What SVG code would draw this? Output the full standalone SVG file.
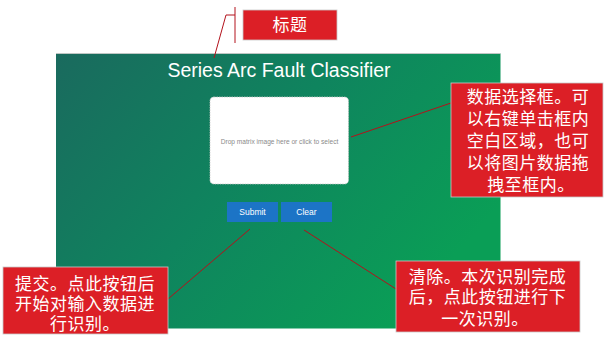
<svg xmlns="http://www.w3.org/2000/svg" width="606" height="340" viewBox="0 0 606 340">
  <defs>
    <linearGradient id="panelGrad" x1="0" y1="0" x2="1" y2="0.55">
      <stop offset="0" stop-color="#1a6a5e"/>
      <stop offset="0.5" stop-color="#0f845e"/>
      <stop offset="1" stop-color="#0a9e56"/>
    </linearGradient>
  </defs>
  <style>
    .callout { fill: #dc1f26; stroke: #c9c9c9; stroke-width: 0.8; }
    .cjk { font-family: "Liberation Sans", "Noto Sans CJK SC", sans-serif; fill: #ffffff; font-size: 17px; letter-spacing: 0.5px; text-anchor: middle; dominant-baseline: central; }
    .btn { fill: #1c74c6; }
    .btnText { font-family: "Liberation Sans", Arial, sans-serif; font-size: 8.5px; fill: #ffffff; text-anchor: middle; dominant-baseline: central; }
    .lead { stroke: #b3121c; stroke-width: 1; fill: none; }
  </style>

  <rect width="606" height="340" fill="#ffffff"/>

  <!-- application window -->
  <g id="app-panel">
    <rect x="56" y="53.5" width="444.5" height="275" fill="url(#panelGrad)"/>
    <line x1="56" y1="53.5" x2="500.5" y2="53.5" stroke="#bfc7c4" stroke-width="1"/>
  </g>

  <g id="app-title">
    <text x="279" y="77" font-family="Liberation Sans, Arial, sans-serif" font-size="19.5" fill="#ffffff" text-anchor="middle">Series Arc Fault Classifier</text>
  </g>

  <g id="drop-zone">
    <rect x="210" y="97" width="138.5" height="87" rx="4" fill="#ffffff" stroke="#c8c8c8" stroke-width="0.8" stroke-dasharray="1.5 1"/>
    <text x="279.5" y="141.5" font-family="Liberation Sans, Arial, sans-serif" font-size="6.6" fill="#8a8a8a" text-anchor="middle" dominant-baseline="central">Drop matrix image here or click to select</text>
  </g>

  <g id="submit-button">
    <rect class="btn" x="227" y="202" width="51" height="20"/>
    <text class="btnText" x="252.5" y="212">Submit</text>
  </g>

  <g id="clear-button">
    <rect class="btn" x="281" y="202" width="51" height="20"/>
    <text class="btnText" x="306.5" y="212">Clear</text>
  </g>

  <!-- leader lines -->
  <g id="connectors">
    <polyline class="lead" points="214,58 226,15 235,15"/>
    <line class="lead" x1="235" y1="7" x2="235" y2="43"/>
    <line class="lead" x1="351" y1="137" x2="451" y2="103"/>
    <line class="lead" x1="250" y1="229" x2="168" y2="299"/>
    <line class="lead" x1="304" y1="230" x2="396" y2="289"/>
  </g>

  <g id="note-title">
    <rect class="callout" x="243" y="10" width="94" height="30"/>
    <text class="cjk" x="290" y="25" font-size="19">标题</text>
  </g>

  <g id="note-drop">
    <rect class="callout" x="451" y="83" width="152" height="114"/>
    <text class="cjk" x="528" y="97.5">数据选择框。可</text>
    <text class="cjk" x="528" y="119.5">以右键单击框内</text>
    <text class="cjk" x="528" y="141.5">空白区域，也可</text>
    <text class="cjk" x="528" y="163.5">以将图片数据拖</text>
    <text class="cjk" x="531" y="185">拽至框内。</text>
  </g>

  <g id="note-submit">
    <rect class="callout" x="3" y="267" width="165" height="67"/>
    <text class="cjk" x="85" y="284">提交。点此按钮后</text>
    <text class="cjk" x="85" y="304.5">开始对输入数据进</text>
    <text class="cjk" x="85" y="324.5">行识别。</text>
  </g>

  <g id="note-clear">
    <rect class="callout" x="396" y="261" width="184" height="71"/>
    <text class="cjk" x="487.5" y="277.5">清除。本次识别完成</text>
    <text class="cjk" x="487.5" y="297.5">后，点此按钮进行下</text>
    <text class="cjk" x="485" y="319">一次识别。</text>
  </g>
</svg>
